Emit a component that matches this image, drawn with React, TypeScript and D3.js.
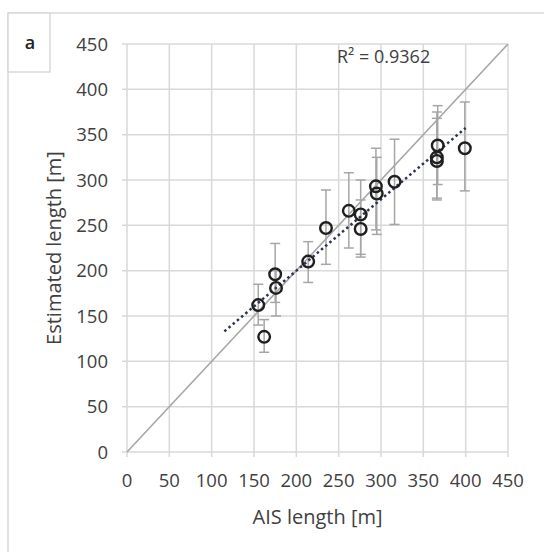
import React from "react";
import * as d3 from "d3";

const aisLength = [155, 162, 175, 176, 214, 235, 262, 276, 276, 294, 295, 316, 367, 366, 366, 399];
const estLength = [162, 127, 196, 181, 210, 247, 266, 262, 246, 293, 285, 298, 338, 325, 321, 335];
const errLow = [140, 110, 165, 150, 187, 207, 225, 218, 215, 245, 240, 251, 295, 280, 278, 288];
const errHigh = [185, 146, 230, 200, 232, 289, 308, 300, 278, 335, 325, 345, 382, 375, 368, 386];
const tickValues = [0, 50, 100, 150, 200, 250, 300, 350, 400, 450];
const trendExtent = [115, 400];
const r2Label = "R² = 0.9362";
const panelLabel = "a";
const xTitle = "AIS length [m]";
const yTitle = "Estimated length [m]";

export default function App() {
  const W = 544, H = 552;
  const x = d3.scaleLinear().domain([0, 450]).range([127, 508]);
  const y = d3.scaleLinear().domain([0, 450]).range([452, 44]);

  const n = aisLength.length;
  const mx = d3.mean(aisLength) as number;
  const my = d3.mean(estLength) as number;
  let sxy = 0, sxx = 0;
  for (let i = 0; i < n; i++) {
    sxy += (aisLength[i] - mx) * (estLength[i] - my);
    sxx += (aisLength[i] - mx) ** 2;
  }
  const slope = sxy / sxx;
  const intercept = my - slope * mx;
  const line = d3.line<number>().x((d) => x(d)).y((d) => y(slope * d + intercept));
  const diag = d3.line<number>().x((d) => x(d)).y((d) => y(d));

  const grid = "#d9d9d9";
  const font = "'Open Sans', 'Noto Sans', sans-serif";
  const txt = "#404040";

  return (
    <svg width={W} height={H} style={{ position: "absolute", left: 0, top: 0, background: "#fff" }} fontFamily={font}>
      {/* outer frame */}
      <line x1={8} y1={13} x2={544} y2={13} stroke={grid} strokeWidth={1.5} />
      <line x1={8} y1={13} x2={8} y2={552} stroke={grid} strokeWidth={1.5} />
      <rect x={8} y={13} width={42} height={59} fill="#fff" stroke={grid} strokeWidth={1.5} />
      <text x={30} y={49} textAnchor="middle" fontSize={18} fontWeight={600} fill="#222">{panelLabel}</text>

      {/* grid */}
      {tickValues.map((t) => (
        <g key={"g" + t}>
          <line x1={x(t)} x2={x(t)} y1={y(450)} y2={y(0) + 5} stroke={grid} strokeWidth={1.5} />
          <line x1={x(0) - 5} x2={x(450)} y1={y(t)} y2={y(t)} stroke={grid} strokeWidth={1.5} />
          <text x={x(t)} y={487} textAnchor="middle" fontSize={18.5} fill={txt}>{t}</text>
          <text x={108} y={y(t) + 6.5} textAnchor="end" fontSize={18.5} fill={txt}>{t}</text>
        </g>
      ))}

      {/* 1:1 line */}
      <path d={diag([0, 450]) || ""} stroke="#a6a6a6" strokeWidth={1.6} fill="none" />

      {/* error bars */}
      {aisLength.map((a, i) => (
        <g key={"e" + i} stroke="#a6a6a6" strokeWidth={1.5}>
          <line x1={x(a)} x2={x(a)} y1={y(errLow[i])} y2={y(errHigh[i])} />
          <line x1={x(a) - 5} x2={x(a) + 5} y1={y(errLow[i])} y2={y(errLow[i])} />
          <line x1={x(a) - 5} x2={x(a) + 5} y1={y(errHigh[i])} y2={y(errHigh[i])} />
        </g>
      ))}

      {/* trend line */}
      <path d={line(trendExtent) || ""} stroke="#2b3550" strokeWidth={2.5} strokeDasharray="2.5,3" fill="none" />

      {/* points */}
      {aisLength.map((a, i) => (
        <circle key={"p" + i} cx={x(a)} cy={y(estLength[i])} r={5.8} fill="none" stroke="#1f1f1f" strokeWidth={2.4} />
      ))}

      <text x={337} y={63} fontSize={18} fill={txt}>{r2Label}</text>

      <text x={(x(0) + x(450)) / 2} y={524} textAnchor="middle" fontSize={20} fill={txt}>{xTitle}</text>
      <text transform={`translate(61, ${(y(0) + y(450)) / 2}) rotate(-90)`} textAnchor="middle" fontSize={20} fill={txt}>{yTitle}</text>
    </svg>
  );
}
